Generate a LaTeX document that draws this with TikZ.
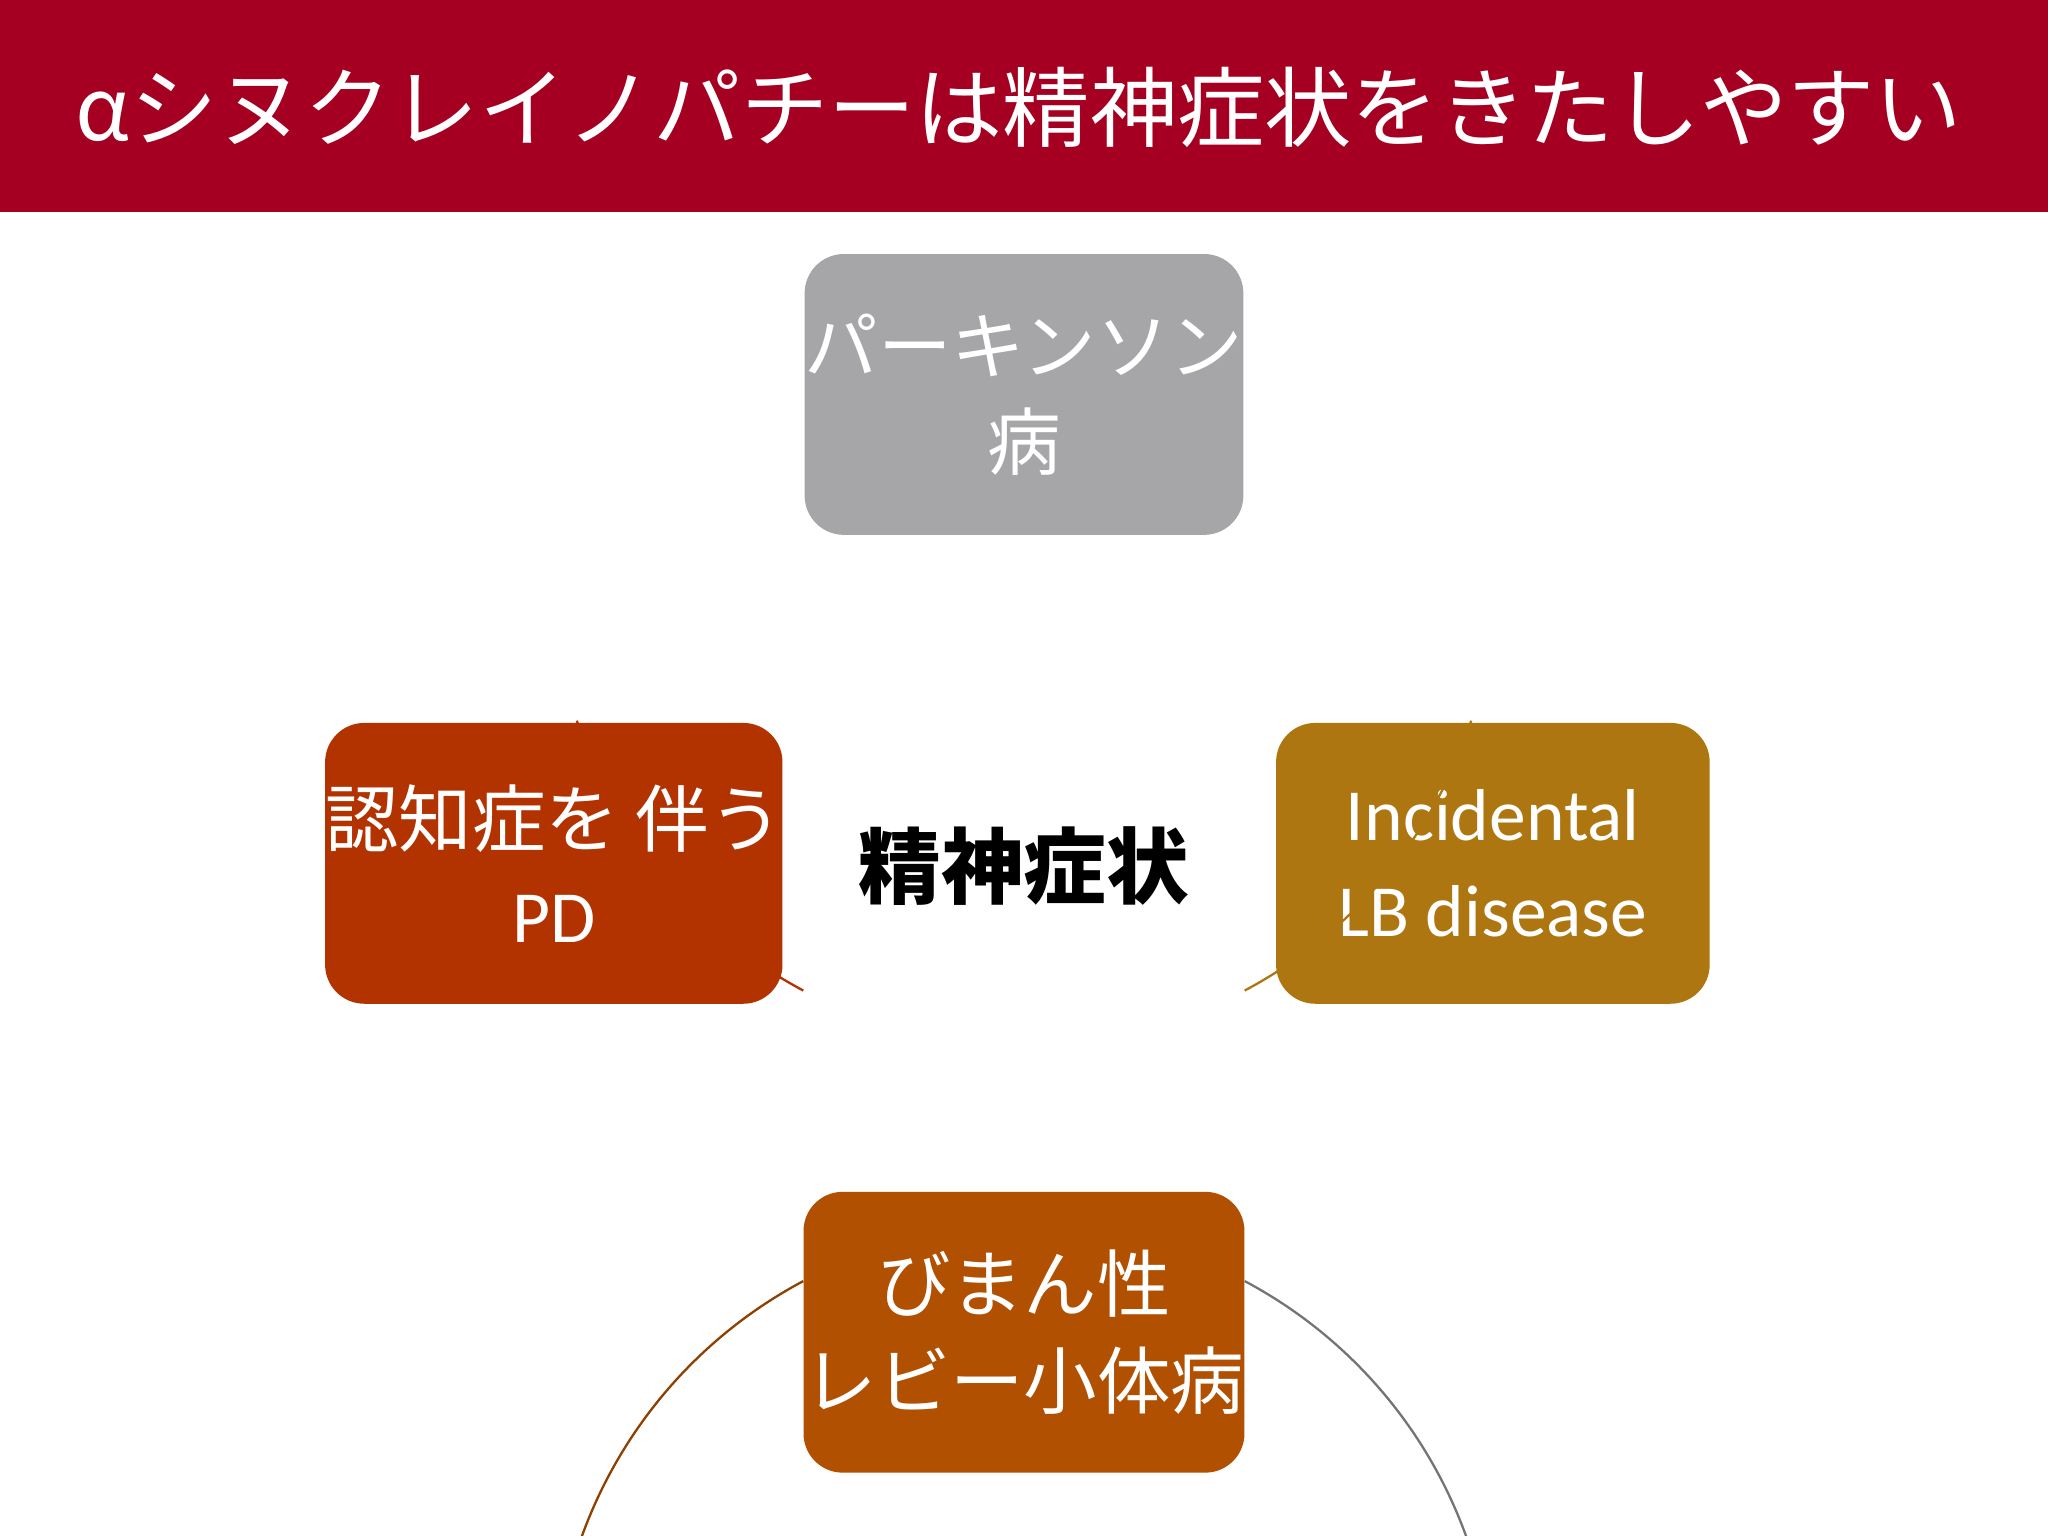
\documentclass[tikz,border=0pt]{standalone}
\usepackage{fontspec}
\setmainfont{Carlito}
\newfontfamily\cjk{Noto Sans CJK JP}
\usetikzlibrary{positioning}
\definecolor{titlered}{HTML}{A50021}
\definecolor{pdgray}{HTML}{A6A5A8}
\definecolor{pddred}{HTML}{B33300}
\definecolor{ilbd}{HTML}{AE7610}
\definecolor{dlbd}{HTML}{B05000}
\tikzset{
box/.style={rounded corners=30*0.01cm, minimum width=332*0.01cm, minimum height=215*0.01cm,
  text=white, align=center, font=\fontsize{16}{21}\selectfont, inner sep=0pt},
ring/.style={line width=0.5pt},
}
\begin{document}
\begin{tikzpicture}[x=0.01cm,y=-0.01cm]
\useasboundingbox (0,0) rectangle (1568,1176);
\fill[titlered] (0,0) rectangle (1568,162);
\node[text=white, font=\cjk\fontsize{19}{23}\selectfont] (title) at (780,82) {αシヌクレイノパチーは精神症状をきたしやすい};

\node[box, fill=pdgray] (pd) at (784,302) {\cjk パーキンソン\\\cjk 病};
\node[box, fill=pddred] (pdd) at (424,661) {\cjk 認知症を 伴う\\PD};
\node[box, fill=ilbd] (ilb) at (1143,661) {Incidental\\LB disease};
\node[box, fill=dlbd] (dlb) at (784,1020) {\cjk びまん性\\\cjk レビー小体病};
\node[font=\cjk\bfseries\fontsize{18}{22}\selectfont] (center) at (784,663) {精神症状};

% connecting arcs of the cycle
\draw[ring, pdgray!70!black] (center) ++(62:360) arc[start angle=-62, end angle=-18, radius=360];
\draw[ring, ilbd] (center) ++(-18:360) arc[start angle=18, end angle=62, radius=360];
\draw[ring, dlbd!80!black] (center) ++(118:360) arc[start angle=-118, end angle=-162, radius=360];
\draw[ring, pddred] (center) ++(198:360) arc[start angle=162, end angle=118, radius=360];
\end{tikzpicture}
\end{document}
